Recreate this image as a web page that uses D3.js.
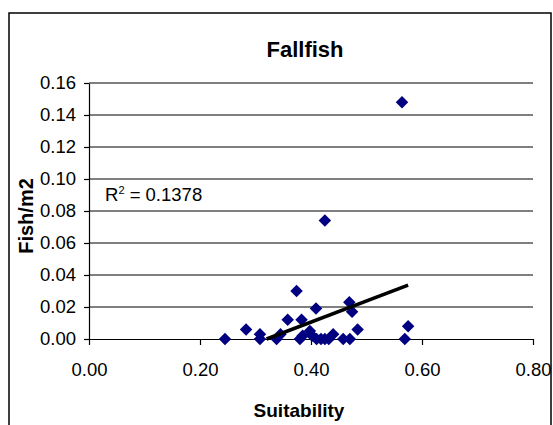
<!DOCTYPE html>
<html>
<head>
<meta charset="utf-8">
<script src="https://cdn.jsdelivr.net/npm/d3@7"></script>
<style>
  html, body { margin: 0; padding: 0; background: #fff; }
  svg { display: block; font-family: Arial, "Liberation Sans", sans-serif; }
</style>
</head>
<body>
<svg id="chart" width="553" height="425"></svg>
<script>
// ---- data ----
const suitability = [0.245, 0.283, 0.308, 0.308, 0.338, 0.345, 0.358, 0.374, 0.380, 0.383,
                     0.385, 0.398, 0.402, 0.409, 0.410, 0.418, 0.425, 0.432, 0.440, 0.425,
                     0.458, 0.470, 0.469, 0.474, 0.484, 0.564, 0.569, 0.575];
const fishPerM2   = [0.000, 0.006, 0.000, 0.003, 0.000, 0.003, 0.012, 0.030, 0.000, 0.012,
                     0.002, 0.005, 0.002, 0.019, 0.000, 0.000, 0.000, 0.000, 0.003, 0.074,
                     0.000, 0.000, 0.023, 0.017, 0.006, 0.148, 0.000, 0.008];
const xTicks = [0, 0.2, 0.4, 0.6, 0.8];
const yTicks = [0, 0.02, 0.04, 0.06, 0.08, 0.10, 0.12, 0.14, 0.16];
const trendSlope = 0.1322;
const trendIntercept = -0.0423;
const rSquaredLabel = "0.1378";
const titleText = "Fallfish";
const xTitle = "Suitability";
const yTitle = "Fish/m2";

const svg = d3.select("#chart");

// outer chart border
svg.append("rect")
  .attr("x", 9).attr("y", 13).attr("width", 542).attr("height", 430)
  .attr("fill", "#fff").attr("stroke", "#000").attr("stroke-width", 1.5);

const x = d3.scaleLinear().domain([0, 0.8]).range([89, 533]);
const y = d3.scaleLinear().domain([0, 0.16]).range([339, 83]);

// gridlines
svg.append("g").selectAll("line")
  .data(yTicks.filter(d => d > 0))
  .join("line")
  .attr("x1", x(0)).attr("x2", x(0.8))
  .attr("y1", d => y(d)).attr("y2", d => y(d))
  .attr("stroke", "#000").attr("stroke-width", 1.2);

// y axis
const yAxis = svg.append("g")
  .attr("transform", `translate(${x(0)},0)`)
  .call(d3.axisLeft(y).tickValues(yTicks).tickFormat(d3.format(".2f"))
        .tickSize(5).tickSizeOuter(0).tickPadding(8));
yAxis.selectAll("text").attr("font-size", 18.5).attr("fill", "#000")
  .attr("font-family", "Arial, 'Liberation Sans', sans-serif");
yAxis.selectAll("line, path").attr("stroke", "#000").attr("stroke-width", 1.2);

// x axis
const xAxis = svg.append("g")
  .attr("transform", `translate(0,${y(0)})`)
  .call(d3.axisBottom(x).tickValues(xTicks).tickFormat(d3.format(".2f"))
        .tickSize(6).tickSizeOuter(0).tickPadding(18));
xAxis.selectAll("text").attr("font-size", 18.5).attr("fill", "#000")
  .attr("font-family", "Arial, 'Liberation Sans', sans-serif");
xAxis.selectAll("line, path").attr("stroke", "#000").attr("stroke-width", 1.2);

// points
const pts = suitability.map((s, i) => [s, fishPerM2[i]]);
svg.append("g").selectAll("path")
  .data(pts)
  .join("path")
  .attr("d", d3.symbol(d3.symbolSquare, 78))
  .attr("transform", d => `translate(${x(d[0])},${y(d[1])}) rotate(45)`)
  .attr("fill", "#000080");

// trend line (clipped to y >= 0)
const xmax = d3.max(suitability);
const xstart = Math.max(d3.min(suitability), -trendIntercept / trendSlope);
svg.append("line")
  .attr("x1", x(xstart)).attr("y1", y(trendSlope * xstart + trendIntercept))
  .attr("x2", x(xmax)).attr("y2", y(trendSlope * xmax + trendIntercept))
  .attr("stroke", "#000").attr("stroke-width", 3.5);

// R² label
const r2 = svg.append("text").attr("x", 105).attr("y", 201)
  .attr("font-size", 18.5).attr("fill", "#000");
r2.append("tspan").text("R");
r2.append("tspan").attr("font-size", 11).attr("dy", -7).text("2");
r2.append("tspan").attr("dy", 7).text(" = " + rSquaredLabel);

// titles
svg.append("text").attr("x", 305).attr("y", 57).attr("text-anchor", "middle")
  .attr("font-size", 22).attr("font-weight", "bold").text(titleText);
svg.append("text").attr("x", 299).attr("y", 417).attr("text-anchor", "middle")
  .attr("font-size", 19).attr("font-weight", "bold").text(xTitle);
svg.append("text").attr("transform", "translate(33,216) rotate(-90)")
  .attr("text-anchor", "middle")
  .attr("font-size", 20).attr("font-weight", "bold").text(yTitle);
</script>
</body>
</html>
